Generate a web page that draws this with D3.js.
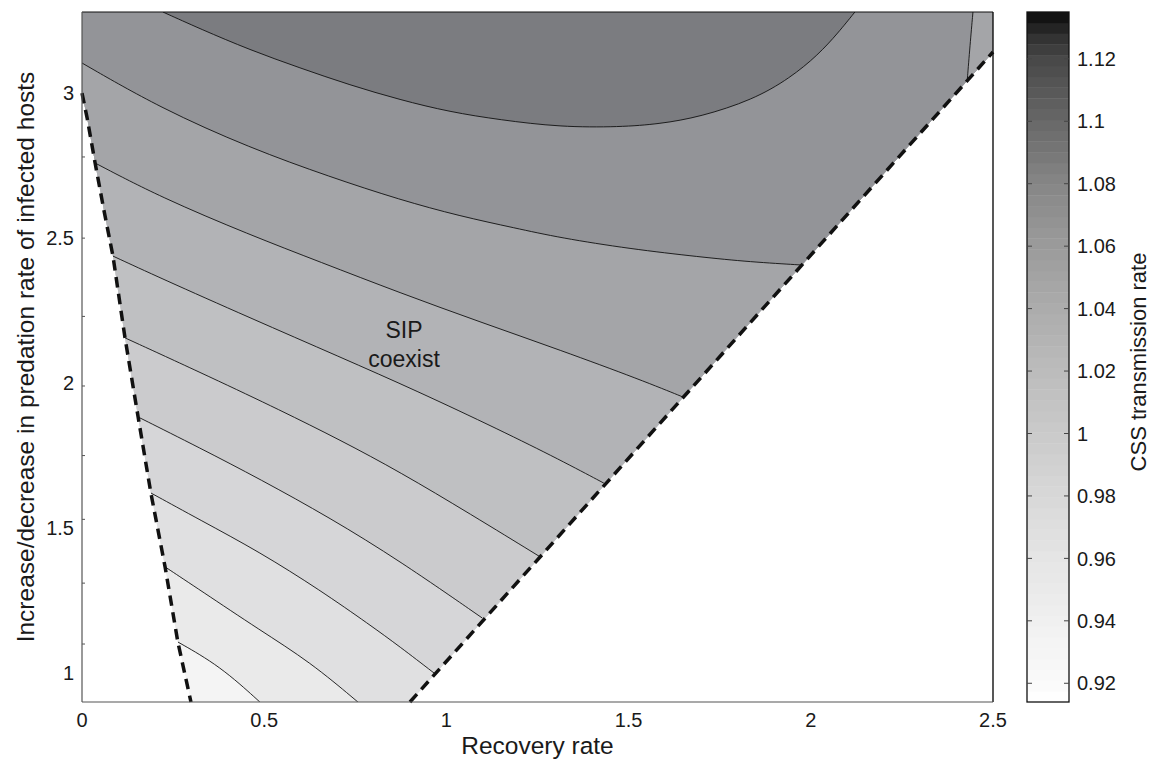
<!DOCTYPE html>
<html><head><meta charset="utf-8">
<script src="https://cdn.jsdelivr.net/npm/d3@7"></script>
<style>
body{margin:0;background:#fff;}
text{font-family:"Liberation Sans",Arial,Helvetica,sans-serif;fill:#1a1a1a;}
</style>
</head><body>
<svg id="chart" width="1150" height="760"></svg>
<script>
// ---------------- data ----------------
const xTicks = [0, 0.5, 1, 1.5, 2, 2.5];
const yTicks = [1, 1.5, 2, 2.5, 3];
const yTickMarks = [1.10, 1.31, 1.53, 1.75, 1.99, 2.23, 2.5, 2.78];
const cbTicks = [0.92, 0.94, 0.96, 0.98, 1.00, 1.02, 1.04, 1.06, 1.08, 1.10, 1.12];

// contour levels of the lines below (lowest -> highest)
const levels = [0.94, 0.958, 0.975, 0.99, 1.006, 1.023, 1.04, 1.057, 1.077];

// contour lines [recovery rate, predation change]
const lineI = [[0.263,1.107],[0.379,1.024],[0.488,0.9]];
const lineH = [[0.228,1.366],[0.324,1.286],[0.488,1.148],[0.626,1.038],[0.757,0.9]];
const lineG = [[0.189,1.621],[0.324,1.528],[0.488,1.417],[0.653,1.286],[0.790,1.166],[0.873,1.090],[0.966,1.000]];
const lineF = [[0.154,1.883],[0.324,1.776],[0.488,1.669],[0.681,1.535],[0.873,1.386],[1.098,1.190]];
const lineE = [[0.118,2.156],[0.357,2.018],[0.543,1.907],[0.708,1.804],[0.873,1.693],[1.065,1.549],[1.262,1.397]];
const lineD = [[0.085,2.438],[0.214,2.363],[0.461,2.225],[0.708,2.090],[0.919,1.973],[1.147,1.838],[1.312,1.735],[1.432,1.655]];
const lineC = [[0.036,2.759],[0.214,2.642],[0.461,2.511],[0.653,2.418],[0.873,2.311],[1.092,2.211],[1.312,2.114],[1.534,2.011],[1.655,1.949]];
const lineB = [[0.0,3.104],[0.214,2.949],[0.461,2.811],[0.681,2.711],[0.873,2.632],[1.037,2.576],[1.188,2.535],[1.312,2.501],[1.504,2.463],[1.696,2.435],[1.833,2.418],[1.979,2.407]];
const lineA = [[0.222,3.28],[0.324,3.222],[0.461,3.149],[0.598,3.087],[0.735,3.028],[0.873,2.977],[1.010,2.935],[1.147,2.908],[1.312,2.883],[1.476,2.883],[1.586,2.894],[1.696,2.918],[1.841,2.977],[1.943,3.052],[2.020,3.132],[2.075,3.208],[2.121,3.28]];
const lineJ = [[2.445,3.28],[2.437,3.166],[2.429,3.039]];   // same level as line B

// coexistence boundaries (dashed)
const leftBoundary = [[0,3.0],[0.014,2.915],[0.036,2.759],[0.060,2.597],[0.085,2.438],[0.118,2.156],[0.154,1.883],[0.189,1.621],[0.228,1.366],[0.263,1.107],[0.299,0.9]];
const rightBoundary = [[0.9,0.9],[2.5,3.142]];

// colourbar ramp stops
const cbStopValues = [0.914, 0.92, 0.94, 0.96, 0.98, 1.00, 1.02, 1.04, 1.06, 1.08, 1.10, 1.12, 1.128, 1.135];
const cbStopGrays  = [255, 250, 240, 229, 216, 202, 188, 172, 155, 134, 104, 72, 45, 10];

// ---------------- styles ----------------
const bandColors = ['#f4f4f4','#eaeaea','#e0e0e1','#d6d6d8','#cbcbcd','#bfc0c2','#b2b3b6','#a4a5a8','#939498','#7b7c80'];

const svg = d3.select('#chart');
const X0 = 82, X1 = 993, Y0 = 12, Y1 = 702;
const x = d3.scaleLinear().domain([0, 2.5]).range([X0, X1]);
const y = d3.scaleLinear().domain([0.9, 3.28]).range([Y1, Y0]);
const band = d3.scaleThreshold().domain(levels).range(bandColors);

const lineGen = d3.line().x(d => x(d[0])).y(d => y(d[1])).curve(d3.curveBasis);
const straight = d3.line().x(d => x(d[0])).y(d => y(d[1]));

// clip region: coexistence wedge
const wedge = [[0,3.28]].concat(leftBoundary, rightBoundary, [[2.5,3.28]]);
svg.append('clipPath').attr('id','wedge').append('path').attr('d', straight(wedge) + 'Z');

const g = svg.append('g').attr('clip-path','url(#wedge)');

// base fill
g.append('path').attr('d', straight(wedge) + 'Z').attr('fill', band(levels[0] - 0.01));

function pt(a){ return x(a[0]).toFixed(2) + ',' + y(a[1]).toFixed(2); }

const stacked = [lineI, lineH, lineG, lineF, lineE, lineD, lineC, lineB];
stacked.forEach((ln, k) => {
  const s = ln[0], e = ln[ln.length - 1];
  const close = ' L' + pt([2.7, e[1]]) + ' L' + pt([2.7, 3.5]) + ' L' + pt([-0.2, 3.5]) + ' L' + pt([-0.2, s[1]]) + ' Z';
  g.append('path').attr('d', lineGen(ln) + close).attr('fill', band(levels[k]));
});
// top region (inside line A)
{
  const s = lineA[0], e = lineA[lineA.length - 1];
  g.append('path').attr('d', lineGen(lineA) + ' L' + pt([e[0], 3.5]) + ' L' + pt([s[0], 3.5]) + ' Z')
   .attr('fill', band(levels[8]));
}
// right sliver beyond line J (drops back below level B)
{
  const s = lineJ[0], e = lineJ[lineJ.length - 1];
  g.append('path').attr('d', 'M' + pt([s[0], 3.5]) + ' L' + pt(s) + lineGen(lineJ).replace(/^M[^LC]*/, ' ') +
     ' L' + pt([e[0], 2.8]) + ' L' + pt([2.7, 2.8]) + ' L' + pt([2.7, 3.5]) + ' Z')
   .attr('fill', band(levels[7] - 0.001));
}

// contour lines
[lineI, lineH, lineG, lineF, lineE, lineD, lineC, lineB, lineA, lineJ].forEach(ln => {
  g.append('path').attr('d', lineGen(ln)).attr('fill','none').attr('stroke','#111').attr('stroke-width',0.9);
});

// dashed boundaries
[leftBoundary, rightBoundary].forEach(b => {
  svg.append('path').attr('d', straight(b)).attr('fill','none').attr('stroke','#111')
     .attr('stroke-width',3.5).attr('stroke-dasharray','10.5,6.5');
});

// axes frame
svg.append('line').attr('x1',X0).attr('x2',X1).attr('y1',Y0).attr('y2',Y0).attr('stroke','#111').attr('stroke-width',1.2);
svg.append('line').attr('x1',X1).attr('x2',X1).attr('y1',Y0).attr('y2',Y1).attr('stroke','#111').attr('stroke-width',1.4);
svg.append('line').attr('x1',X0).attr('x2',X1).attr('y1',Y1).attr('y2',Y1).attr('stroke','#555').attr('stroke-width',1.2);
svg.append('line').attr('x1',X0).attr('x2',X0).attr('y1',Y0).attr('y2',Y1).attr('stroke','#555').attr('stroke-width',1.2);

// y tick marks (inward)
yTickMarks.forEach(v => {
  svg.append('line').attr('x1',X0).attr('x2',X0+3).attr('y1',y(v)).attr('y2',y(v)).attr('stroke','#555').attr('stroke-width',1);
});

// tick labels
xTicks.forEach(v => {
  svg.append('text').attr('x', x(v)).attr('y', 727).attr('text-anchor','middle').attr('font-size',20).text(String(v));
});
yTicks.forEach(v => {
  svg.append('text').attr('x', 74).attr('y', y(v)).attr('dy','0.36em').attr('text-anchor','end').attr('font-size',20).text(String(v));
});

// axis labels
svg.append('text').attr('x', (X0 + X1) / 2).attr('y', 754).attr('text-anchor','middle').attr('font-size',24.5).text('Recovery rate');
svg.append('text').attr('transform','translate(34,' + ((Y0 + Y1) / 2) + ') rotate(-90)')
   .attr('text-anchor','middle').attr('font-size',24.5).text('Increase/decrease in predation rate of infected hosts');

// annotation
svg.append('text').attr('x', 404).attr('y', 338).attr('text-anchor','middle').attr('font-size',23).text('SIP');
svg.append('text').attr('x', 404).attr('y', 367).attr('text-anchor','middle').attr('font-size',23).text('coexist');

// ---------------- colourbar ----------------
const CB0 = 1027, CB1 = 1069;
const cbY = d3.scaleLinear().domain([0.914, 1.135]).range([Y1, Y0]);
const cbGray = d3.scaleLinear().domain(cbStopValues).range(cbStopGrays);
const nSteps = 64;
const stepV = (cbY.domain()[1] - cbY.domain()[0]) / nSteps;
const steps = d3.range(nSteps).map(i => cbY.domain()[0] + i * stepV);
svg.append('g').selectAll('rect').data(steps).join('rect')
  .attr('x', CB0).attr('width', CB1 - CB0)
  .attr('y', d => cbY(d + stepV)).attr('height', d => cbY(d) - cbY(d + stepV) + 0.4)
  .attr('fill', d => { const gv = Math.round(cbGray(d + stepV / 2)); return d3.rgb(gv, gv, gv); });
svg.append('rect').attr('x',CB0).attr('y',Y0).attr('width',CB1-CB0).attr('height',Y1-Y0)
  .attr('fill','none').attr('stroke','#111').attr('stroke-width',1.3);
cbTicks.forEach(v => {
  svg.append('line').attr('x1',CB0).attr('x2',CB0+5).attr('y1',cbY(v)).attr('y2',cbY(v)).attr('stroke','#444');
  svg.append('line').attr('x1',CB1-5).attr('x2',CB1).attr('y1',cbY(v)).attr('y2',cbY(v)).attr('stroke','#444');
  svg.append('text').attr('x', 1077).attr('y', cbY(v)).attr('dy','0.36em').attr('font-size',20).text(String(v));
});
svg.append('text').attr('transform','translate(1146,362) rotate(-90)').attr('text-anchor','middle')
   .attr('font-size',22).text('CSS transmission rate');
</script>
</body></html>
